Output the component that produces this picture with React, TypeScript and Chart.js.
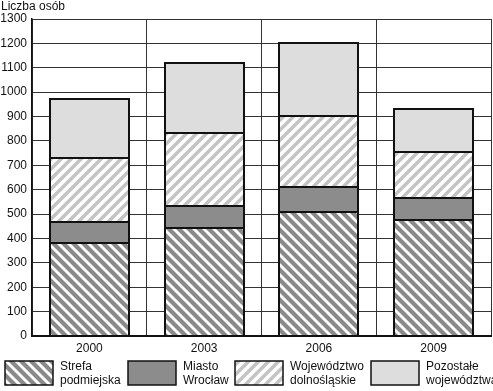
import React, { useEffect, useRef } from "react";
import { Chart, registerables } from "chart.js";

Chart.register(...registerables);

const years = ["2000", "2003", "2006", "2009"];
const strefaPodmiejska = [383, 444, 507, 476];
const miastoWroclaw = [83, 89, 105, 89];
const wojDolnoslaskie = [263, 298, 292, 191];
const pozostaleWoj = [244, 290, 296, 174];
const seriesLabels = [
  ["Strefa", "podmiejska"],
  ["Miasto", "Wrocław"],
  ["Województwo", "dolnośląskie"],
  ["Pozostałe", "województwa"],
];
const yAxisTitle = "Liczba osób";

const FONT = "'Liberation Sans', Arial, sans-serif";

function makeHatch(fg: string, bg: string, dir: "back" | "fwd", size: number, lw: number) {
  const c = document.createElement("canvas");
  c.width = size;
  c.height = size;
  const ctx = c.getContext("2d")!;
  ctx.fillStyle = bg;
  ctx.fillRect(0, 0, size, size);
  ctx.strokeStyle = fg;
  ctx.lineWidth = lw;
  ctx.lineCap = "square";
  for (let k = -1; k <= 1; k++) {
    ctx.beginPath();
    if (dir === "back") {
      ctx.moveTo(k * size, 0);
      ctx.lineTo(k * size + size, size);
    } else {
      ctx.moveTo(k * size, size);
      ctx.lineTo(k * size + size, 0);
    }
    ctx.stroke();
  }
  return ctx.createPattern(c, "repeat")!;
}

export default function App() {
  const ref = useRef<HTMLCanvasElement>(null);
  useEffect(() => {
    document.body.style.margin = "0";
    const canvas = ref.current!;
    const fills = [
      makeHatch("#8a8a8a", "#ffffff", "back", 10, 4.2),
      "#8c8c8c",
      makeHatch("#c4c4c4", "#ffffff", "fwd", 10, 3.6),
      "#dddddd",
    ];
    const values = [strefaPodmiejska, miastoWroclaw, wojDolnoslaskie, pozostaleWoj];

    const outlinePlugin = {
      id: "barOutlines",
      afterDatasetsDraw(chart: any) {
        const ctx = chart.ctx as CanvasRenderingContext2D;
        ctx.save();
        ctx.strokeStyle = "#111";
        ctx.lineWidth = 2;
        chart.data.datasets.forEach((_: any, di: number) => {
          const meta = chart.getDatasetMeta(di);
          meta.data.forEach((bar: any) => {
            const { x, y, base, width } = bar.getProps(["x", "y", "base", "width"], true);
            const left = Math.round(x - width / 2);
            const right = Math.round(x + width / 2);
            const top = Math.round(Math.min(y, base));
            const bottom = Math.round(Math.max(y, base));
            ctx.strokeRect(left, top, right - left, bottom - top);
          });
        });
        ctx.restore();
      },
    };

    const legendPlugin = {
      id: "customLegend",
      afterDraw(chart: any) {
        const ctx = chart.ctx as CanvasRenderingContext2D;
        ctx.save();
        ctx.font = `12px ${FONT}`;
        ctx.fillStyle = "#111";
        ctx.textAlign = "left";
        ctx.textBaseline = "alphabetic";
        ctx.fillText(yAxisTitle, 1, 10);
        const starts = [5, 128, 235, 371];
        const boxW = 48;
        const boxTop = 361;
        const boxH = 24;
        chart.data.datasets.forEach((ds: any, i: number) => {
          const x = starts[i];
          ctx.fillStyle = ds.backgroundColor;
          ctx.fillRect(x, boxTop, boxW, boxH);
          ctx.strokeStyle = "#111";
          ctx.lineWidth = 1.5;
          ctx.strokeRect(x, boxTop, boxW, boxH);
          ctx.fillStyle = "#111";
          ctx.font = `12px ${FONT}`;
          ctx.textBaseline = "middle";
          seriesLabels[i].forEach((t, j) => {
            ctx.fillText(t, x + boxW + 7, 367 + j * 13.5);
          });
        });
        ctx.restore();
      },
    };

    const chart = new Chart(canvas, {
      type: "bar",
      data: {
        labels: years,
        datasets: values.map((v, i) => ({
          label: seriesLabels[i].join(" "),
          data: v,
          backgroundColor: fills[i] as any,
          borderWidth: 0,
          categoryPercentage: 1,
          barPercentage: 0.69,
        })),
      },
      options: {
        responsive: false,
        animation: false,
        layout: { padding: { top: 19, right: 2, bottom: 35, left: 0 } },
        plugins: {
          legend: { display: false },
          tooltip: { enabled: false },
        },
        scales: {
          x: {
            stacked: true,
            offset: true,
            afterFit: (axis: any) => {
              axis.height = 20;
            },
            grid: { offset: true, color: "#333", lineWidth: 1, drawTicks: false },
            border: { color: "#111", width: 2 },
            ticks: { color: "#111", font: { family: FONT, size: 12 }, padding: 5 },
          },
          y: {
            stacked: true,
            min: 0,
            max: 1300,
            afterFit: (axis: any) => {
              axis.width = 32;
            },
            grid: { color: "#333", lineWidth: 1, drawTicks: false },
            border: { color: "#111", width: 1.5 },
            ticks: {
              stepSize: 100,
              color: "#111",
              font: { family: FONT, size: 12 },
              padding: 5,
              callback: (v: any) => String(v),
            },
          },
        },
      },
      plugins: [outlinePlugin, legendPlugin],
    });
    return () => chart.destroy();
  }, []);
  return <canvas ref={ref} width={493} height={391} style={{ display: "block" }} />;
}
